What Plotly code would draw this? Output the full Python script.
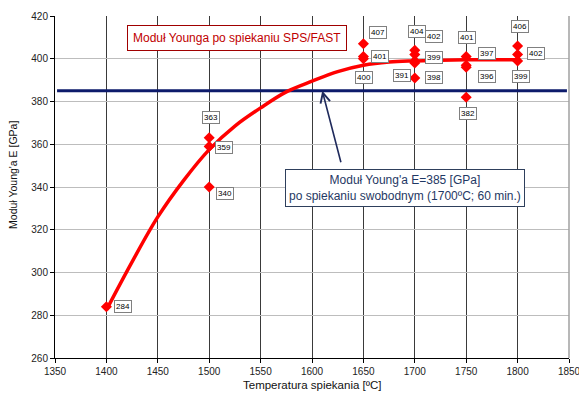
import plotly.graph_objects as go

# Measured Young's modulus after SPS/FAST sintering
temps = [1400, 1500, 1500, 1500, 1650, 1650, 1650,
         1700, 1700, 1700, 1700, 1700,
         1750, 1750, 1750, 1750, 1800, 1800, 1800]
modulus = [284, 340, 359, 363, 400, 401, 407,
           391, 398, 399, 402, 404,
           382, 396, 397, 401, 399, 402, 406]

# Label offsets (pixels) for each value box
label_dx = [17, 16, 15, 2, 1, 17, 15,
            -13, 19, 19, 19, 2,
            2, 21, 21, 1, 3, 18, 2]
label_dy = [0, -6, -1, 20, -19, 0, 11,
            2, -14, 3, 18, 19,
            -16, -9, 12, 19, -16, 1, 19]

# Trend curve through the measurements
trend_temps = [1400, 1425, 1450, 1475, 1500, 1525, 1550, 1575, 1600,
               1625, 1650, 1675, 1700, 1750, 1800]
trend_vals = [282.5, 305, 326, 343, 357.5, 368.5, 377, 384.5, 389.5,
              394, 397, 398.5, 399, 399.5, 399.5]

# Reference level after free sintering
free_temps = [1352, 1848]
free_vals = [385, 385]

NAVY = "#0D1B6B"
RED = "#FF0000"
FONT = "Liberation Sans, Arial"

fig = go.Figure()

fig.add_trace(go.Scatter(
    x=free_temps, y=free_vals, mode="lines",
    line=dict(color=NAVY, width=3), showlegend=False, hoverinfo="skip"))

fig.add_trace(go.Scatter(
    x=trend_temps, y=trend_vals, mode="lines",
    line=dict(color=RED, width=3.5, shape="spline", smoothing=1.0),
    showlegend=False, hoverinfo="skip"))

fig.add_trace(go.Scatter(
    x=temps, y=modulus, mode="markers",
    marker=dict(symbol="diamond", size=8.5, color=RED),
    showlegend=False))

for t, v, dx, dy in zip(temps, modulus, label_dx, label_dy):
    fig.add_annotation(
        x=t, y=v, text=str(v), showarrow=False,
        xshift=dx, yshift=dy,
        font=dict(family=FONT, size=8, color="#000000"),
        bgcolor="white", bordercolor="#808080", borderwidth=1, borderpad=1)

# Series caption
fig.add_annotation(
    x=1527, y=409.5, showarrow=False,
    text="Moduł Younga po spiekaniu SPS/FAST",
    font=dict(family=FONT, size=12, color="#C00000"),
    bgcolor="white", bordercolor="#A00000", borderwidth=1, borderpad=5)

fig.add_annotation(
    x=1610, y=385, text="", showarrow=True,
    ax=19, ay=73, arrowhead=5, arrowsize=1.2, arrowwidth=1.6,
    arrowcolor="#1F2A5C")

fig.add_annotation(
    x=1690, y=339.5, showarrow=False,
    text="Moduł Young'a E=385 [GPa]<br>po spiekaniu swobodnym (1700ºC; 60 min.)",
    font=dict(family=FONT, size=12, color="#1F3864"),
    bgcolor="white", bordercolor="#2E3F5C", borderwidth=1, borderpad=3)

# Axis titles
fig.add_annotation(
    x=0.5, y=-0.079, xref="paper", yref="paper", yanchor="middle",
    showarrow=False, text="Temperatura spiekania [ºC]",
    font=dict(family=FONT, size=11.5, color="#111111"))
fig.add_annotation(
    x=-0.082, y=0.535, xref="paper", yref="paper", textangle=-90,
    xanchor="center", yanchor="middle", showarrow=False,
    text="Moduł Young'a E [GPa]",
    font=dict(family=FONT, size=10.5, color="#111111"))

# Right frame edge
fig.add_shape(type="line", xref="paper", yref="paper",
              x0=1, x1=1, y0=0, y1=1, line=dict(color="#A0A0A0", width=1.5),
              layer="above")

fig.update_layout(
    width=579, height=399,
    margin=dict(l=55, r=10, t=16, b=41),
    paper_bgcolor="white", plot_bgcolor="white",
    font=dict(family=FONT, color="#222222"),
    xaxis=dict(
        range=[1350, 1850], dtick=50, tick0=1350,
        showgrid=True, gridcolor="#3A3A3A", gridwidth=1,
        showline=True, linecolor="#000000", linewidth=1,
        ticks="outside", ticklen=4, tickcolor="#000000",
        tickfont=dict(size=10, color="#222222"),
        ticklabeloverflow="allow", automargin=False,
        zeroline=False),
    yaxis=dict(
        range=[260, 420], dtick=20,
        showgrid=True, gridcolor="#BDBDBD", gridwidth=1,
        showline=True, linecolor="#000000", linewidth=1,
        ticks="outside", ticklen=4, tickcolor="#000000",
        tickfont=dict(size=10, color="#222222"),
        automargin=False,
        zeroline=False),
)

fig.write_html("out.html")
